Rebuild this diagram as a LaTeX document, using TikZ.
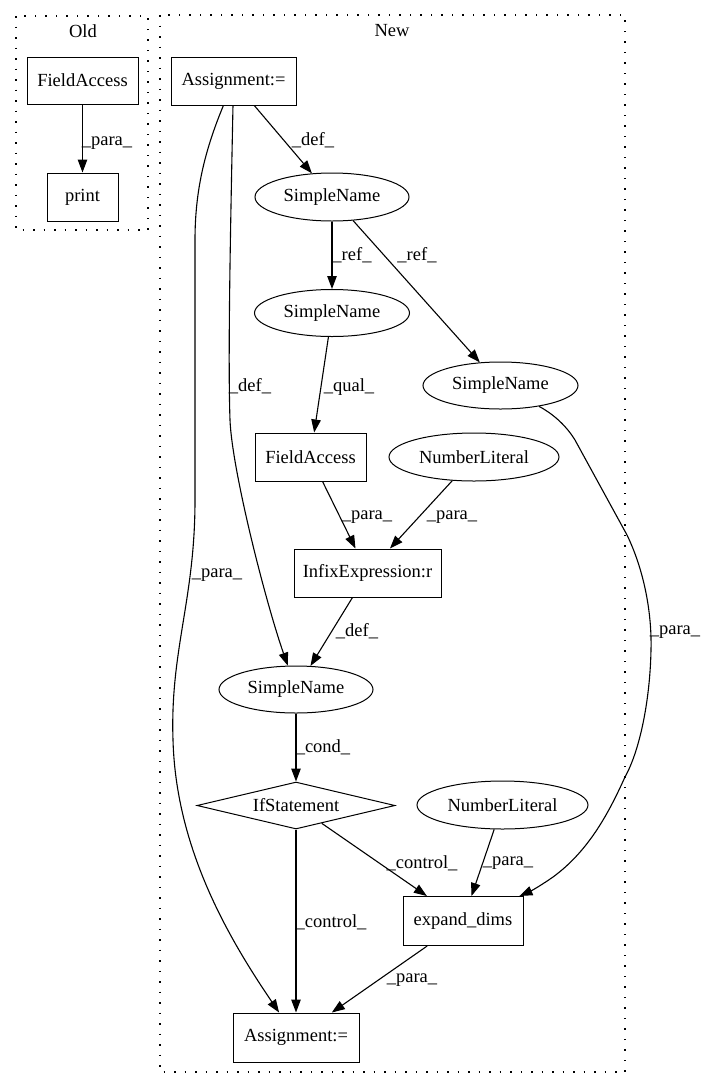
\documentclass[tikz,border=0pt]{standalone}
\usepackage{fontspec}
\setmainfont{Liberation Serif}
\usetikzlibrary{arrows.meta,shapes.geometric}
\begin{document}
\begin{tikzpicture}[x=1pt,y=-1pt,
  every node/.style={font=\fontsize{18.5}{20}\selectfont, inner sep=0pt},
  box/.style={draw, line width=1pt, rectangle},
  ell/.style={draw, line width=1pt, ellipse},
  dia/.style={draw, line width=1pt, diamond, aspect=5},
  cluster/.style={draw, line width=1.2pt, dash pattern=on 1.5pt off 9pt},
  edge/.style={line width=1.1pt, -{Triangle[length=13pt,width=9.5pt]}},
  lbl/.style={}]
\useasboundingbox (0,0) rectangle (705,1088);
% clusters
\draw[cluster] (16,16) rectangle (148,230);
\draw[cluster] (160,15) rectangle (625,1072);
\node (oldt) at (83,31) {Old};
\node (newt) at (392,31) {New};
% Old
\node[box, minimum width=111pt, minimum height=47pt] (ofa) at (82.5,80.5) {FieldAccess};
\node[box, minimum width=71pt, minimum height=48pt] (prt) at (82.5,197) {print};
% New
\node[box, minimum width=125pt, minimum height=48pt] (a1) at (233.5,81) {Assignment:=};
\node[ell, minimum width=154pt, minimum height=48pt] (sn1) at (332,197) {SimpleName};
\node[ell, minimum width=155pt, minimum height=47pt] (sn2) at (332,313) {SimpleName};
\node[ell, minimum width=155pt, minimum height=47pt] (sn3) at (500.5,385.5) {SimpleName};
\node[box, minimum width=111pt, minimum height=48pt] (fa) at (310.5,457) {FieldAccess};
\node[ell, minimum width=170pt, minimum height=48pt] (nl1) at (474,457) {NumberLiteral};
\node[box, minimum width=147pt, minimum height=48pt] (inf) at (367.5,573) {InfixExpression:r};
\node[ell, minimum width=154pt, minimum height=47pt] (sn4) at (296,689.5) {SimpleName};
\node[dia, minimum width=198pt, minimum height=47pt] (ifs) at (296,805.5) {IfStatement};
\node[ell, minimum width=171pt, minimum height=48pt] (nl2) at (502.5,805) {NumberLiteral};
\node[box, minimum width=120pt, minimum height=49pt] (exp) at (463,921) {expand\_dims};
\node[box, minimum width=126pt, minimum height=49pt] (a2) at (296,1037.5) {Assignment:=};
% edges
\draw[edge] (ofa) -- (prt);
\draw[edge] (a1) -- (sn1);
\draw[edge] (sn1) -- (sn2);
\draw[edge] (sn1) -- (sn3);
\draw[edge] (sn2) -- (fa);
\draw[edge] (fa) -- (inf);
\draw[edge] (nl1) -- (inf);
\draw[edge] (inf) -- (sn4);
\draw[edge] (sn4) -- (ifs);
\draw[edge] (ifs) -- (exp);
\draw[edge] (nl2) -- (exp);
\draw[edge] (ifs) -- (a2);
\draw[edge] (exp) -- (a2);
\draw[edge] (a1) .. controls (230,250) and (228,360) .. (230,420)
  .. controls (232,470) and (265,600) .. (sn4);
\draw[edge] (a1) .. controls (205,150) and (195,190) .. (195,240) -- (195,500)
  .. controls (195,600) and (170,650) .. (173,740)
  .. controls (176,850) and (230,940) .. (a2);
\draw[edge] (sn3) .. controls (555,415) and (567,427) .. (575,440) -- (627,535)
  .. controls (643,568) and (652,610) .. (651,650)
  .. controls (650,700) and (640,750) .. (625,777)
  .. controls (610,810) and (590,850) .. (553,877)
  .. controls (543,884) and (533,890) .. (exp);
% labels
\node[lbl] (l1) at (107,143) {\_para\_};
\node[lbl] (l2) at (313,140) {\_def\_};
\node[lbl] (l3) at (352,255) {\_ref\_};
\node[lbl] (l4) at (417,255) {\_ref\_};
\node[lbl] (l5) at (250,386) {\_def\_};
\node[lbl] (l6) at (349,387) {\_qual\_};
\node[lbl] (l7) at (367,517) {\_para\_};
\node[lbl] (l8) at (452,517) {\_para\_};
\node[lbl] (l9) at (217,575) {\_para\_};
\node[lbl] (l10) at (675,632) {\_para\_};
\node[lbl] (l11) at (357,631) {\_def\_};
\node[lbl] (l12) at (323,747) {\_cond\_};
\node[lbl] (l13) at (422,863) {\_control\_};
\node[lbl] (l14) at (508,863) {\_para\_};
\node[lbl] (l15) at (331,922) {\_control\_};
\node[lbl] (l16) at (412,980) {\_para\_};
\end{tikzpicture}
\end{document}
